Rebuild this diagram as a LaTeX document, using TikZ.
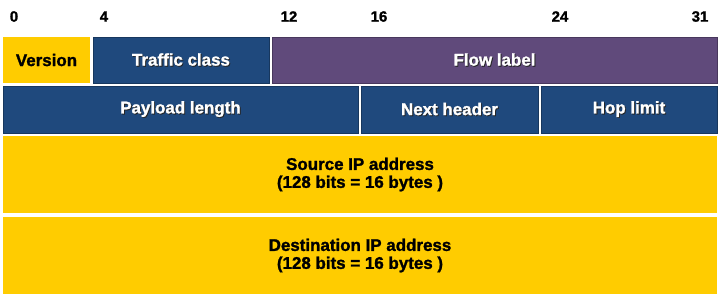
\documentclass[tikz,border=0pt]{standalone}
\usepackage{fontspec}
\setmainfont{Liberation Sans}[BoldFeatures={FakeBold=1.4}]
\usetikzlibrary{positioning}

\definecolor{hdryellow}{HTML}{FFCC00}
\definecolor{hdrblue}{HTML}{1F497D}
\definecolor{hdrpurple}{HTML}{604A7B}

% white label with a dark drop shadow
\newcommand{\shtxt}[1]{\makebox[0pt][l]{\hspace{0.9bp}\raisebox{-0.9bp}{\color{black!85}#1}}#1}

\begin{document}
\begin{tikzpicture}[x=1bp,y=-1bp,
	field/.style={inner sep=0pt,outer sep=0pt,anchor=north west,align=center,
		font=\fontsize{17}{18}\selectfont\bfseries},
	yfield/.style={field,fill=hdryellow,text=black},
	bfield/.style={field,fill=hdrblue,draw=hdrblue!75!black,line width=0.6bp,text=white},
	pfield/.style={field,fill=hdrpurple,draw=hdrpurple!75!black,line width=0.6bp,text=white},
	bitnum/.style={font=\fontsize{15}{15}\selectfont\bfseries}]
	\useasboundingbox (0,0) rectangle (720,297);

	% bit positions
	\foreach \x/\n in {14/0,104/4,289/12,379/16,560/24,700/31}
		\node[bitnum] (bit\n) at (\x,16.5) {\n};

	% first word
	\node[yfield,minimum width=87bp,minimum height=46bp] (version) at (3,37) {Version};
	\node[bfield,minimum width=176bp,minimum height=46bp,right=3bp of version] (traffic) {\shtxt{Traffic class}};
	\node[pfield,minimum width=445bp,minimum height=46bp,right=3bp of traffic] (flow) {\shtxt{Flow label}};

	% second word
	\node[bfield,minimum width=355bp,minimum height=47bp] (payload) at (3,86) {\shtxt{Payload length}};
	\node[bfield,minimum width=177bp,minimum height=47bp,right=3bp of payload] (next) {\shtxt{Next header}};
	\node[bfield,minimum width=176bp,minimum height=47bp,right=3bp of next] (hop) {\shtxt{Hop limit}};

	% addresses
	\node[yfield,minimum width=714bp,minimum height=77bp] (source) at (3,136)
		{Source IP address\\(128 bits = 16 bytes )};
	\node[yfield,minimum width=714bp,minimum height=77bp,below=4bp of source] (dest)
		{Destination IP address\\(128 bits = 16 bytes )};
\end{tikzpicture}
\end{document}
